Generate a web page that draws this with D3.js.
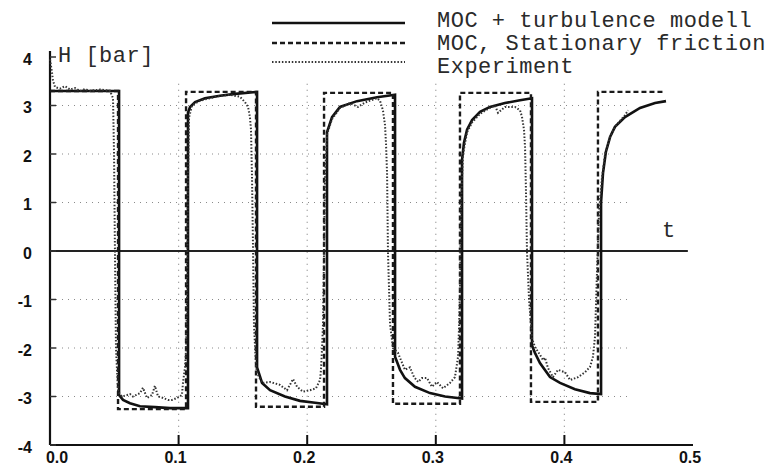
<!DOCTYPE html>
<meta charset="utf-8">
<style>
body { margin: 0; background: #fff; }
.tick-label { font-family: "Liberation Sans", Arial, sans-serif; font-weight: bold; font-size: 16px; fill: #111; }
.mono { font-family: "Liberation Mono", "Courier New", monospace; font-size: 22px; letter-spacing: 0.5px; fill: #2a2a2a; }
.grid line { stroke: #8a8a8a; stroke-width: 1.2; stroke-dasharray: 1,5; }
</style>
<body>
<script src="https://cdn.jsdelivr.net/npm/d3@7/dist/d3.min.js"></script>
<script>

// values: [t, H]
var turbulence = [
  [0,3.30],[0.0537,3.30],[0.0537,-2.97],[0.0568,-3.07],[0.0622,-3.14],[0.07,-3.2],[0.0816,-3.22],[0.0933,-3.24],[0.1073,-3.24],
  [0.1073,2.85],[0.1089,2.97],[0.1128,3.07],[0.1205,3.15],[0.1322,3.2],[0.1439,3.24],[0.161,3.28],
  [0.161,-2.40],[0.1649,-2.72],[0.1711,-2.87],[0.1827,-3.0],[0.1944,-3.09],[0.2061,-3.13],[0.2154,-3.16],
  [0.2154,2.45],[0.2193,2.76],[0.2255,2.97],[0.2387,3.09],[0.2543,3.17],[0.2683,3.22],
  [0.2683,-2.18],[0.2722,-2.45],[0.276,-2.62],[0.2838,-2.8],[0.2955,-2.93],[0.3072,-3.0],[0.3204,-3.04],
  [0.3204,1.88],[0.3219,2.23],[0.3243,2.5],[0.3282,2.7],[0.3344,2.87],[0.3421,2.97],[0.3538,3.05],[0.3655,3.11],[0.3748,3.15],
  [0.3748,-1.95],[0.3771,-2.1],[0.381,-2.31],[0.3888,-2.6],[0.3966,-2.72],[0.4082,-2.85],[0.4199,-2.93],[0.4285,-2.95],
  [0.4285,1.0],[0.43,1.6],[0.4323,2.05],[0.4355,2.35],[0.4393,2.56],[0.4471,2.76],[0.4588,2.95],[0.4705,3.05],[0.479,3.09]
];

var stationary = [
  [0,3.30],[0.0529,3.30],[0.0529,-3.26],[0.1058,-3.26],[0.1058,3.28],[0.1602,3.28],[0.1602,-3.21],[0.2131,-3.21],
  [0.2131,3.26],[0.2667,3.26],[0.2667,-3.15],[0.3188,-3.15],[0.3188,3.26],[0.374,3.26],[0.374,-3.11],[0.4261,-3.11],
  [0.4261,3.28],[0.4785,3.28]
];

var experiment = [
  [0,3.95],[0.0016,3.67],[0.0023,3.52],[0.0039,3.38],[0.0078,3.35],[0.0117,3.40],[0.0156,3.33],[0.0194,3.36],[0.0233,3.30],
  [0.0272,3.34],[0.0311,3.30],[0.0389,3.33],[0.0467,3.30],[0.049,3.15],[0.0498,2.0],[0.0505,0],[0.0513,-2.0],[0.0529,-2.90],
  [0.056,-3.0],[0.0599,-2.97],[0.0622,-2.95],[0.0645,-3.0],[0.07,-2.93],[0.0723,-2.82],[0.0754,-3.03],[0.0793,-2.97],
  [0.0816,-2.78],[0.084,-3.0],[0.0879,-3.03],[0.0918,-3.07],[0.0949,-3.07],[0.0988,-3.03],[0.1026,-2.97],[0.1034,-2.72],
  [0.105,-2.39],[0.1058,-2.04],[0.1065,-1.0],[0.1073,1.5],[0.1081,2.75],[0.1104,3.0],[0.1166,3.1],[0.1244,3.15],[0.1322,3.2],
  [0.14,3.22],[0.1477,3.18],[0.1516,3.07],[0.154,2.97],[0.1555,2.75],[0.1563,2.5],[0.1571,1.5],[0.1579,0],[0.1586,-1.5],[0.1602,-2.4],
  [0.1617,-2.55],[0.1649,-2.72],[0.1711,-2.7],[0.1788,-2.76],[0.1843,-2.87],[0.189,-2.64],[0.1921,-2.8],[0.1967,-2.9],
  [0.2022,-2.87],[0.2068,-2.83],[0.21,-2.66],[0.2107,-2.45],[0.2115,-2.04],[0.2123,-1.5],[0.2131,0],[0.2138,1.5],[0.2154,2.4],
  [0.2193,2.72],[0.2255,2.95],[0.2333,3.05],[0.2395,2.97],[0.2449,3.06],[0.2488,3.1],[0.2543,3.15],[0.2566,3.1],[0.2589,2.9],
  [0.2605,2.6],[0.2613,2.2],[0.2621,1.6],[0.2628,0],[0.2644,-1.5],[0.2667,-2.0],
  [0.2706,-2.1],[0.276,-2.45],[0.2799,-2.4],[0.2831,-2.6],[0.2862,-2.7],[0.2893,-2.62],[0.2932,-2.62],[0.297,-2.8],[0.3009,-2.7],
  [0.3056,-2.83],[0.311,-2.72],[0.3149,-2.6],[0.3173,-2.18],[0.318,-1.63],[0.3188,-0.8],[0.3196,1.0],[0.3212,2.0],[0.3243,2.45],
  [0.3282,2.65],[0.3344,2.83],[0.3421,2.95],[0.346,3.0],[0.3484,2.85],[0.3538,2.97],[0.3616,2.97],[0.3655,2.9],[0.367,2.77],
  [0.3686,2.5],[0.3694,2.14],[0.3701,1.26],[0.3709,0],[0.3725,-1.0],[0.3748,-1.8],
  [0.3771,-1.98],[0.381,-2.14],[0.3834,-2.25],[0.3849,-2.2],[0.3872,-2.41],[0.3911,-2.6],[0.395,-2.45],[0.4005,-2.5],[0.4044,-2.66],
  [0.4106,-2.6],[0.416,-2.5],[0.4199,-2.39],[0.4222,-2.18],[0.4238,-1.77],[0.4246,-1.07],[0.4254,-0.4],[0.4269,0.8],[0.4292,1.5],
  [0.4316,2.0],[0.4355,2.35],[0.4393,2.56],[0.4432,2.68],[0.4471,2.8],[0.4495,2.9]
];

var seriesNames = ["MOC + turbulence modell", "MOC, Stationary friction", "Experiment"];
var yTicks = [-4, -3, -2, -1, 0, 1, 2, 3, 4];
var xTicks = [0, 0.1, 0.2, 0.3, 0.4, 0.5];
var xTickLabels = ["0.0", "0.1", "0.2", "0.3", "0.4", "0.5"];
var gridH = [-3, -2, -1, 1, 2, 3];
var gridT = [0.1, 0.2, 0.3, 0.4];

var margin = {top: 57, right: 74, bottom: 22, left: 50},
    width = 767 - margin.left - margin.right,
    height = 467 - margin.top - margin.bottom;

var x = d3.scaleLinear().domain([0, 0.5]).range([0, width]);
var y = d3.scaleLinear().domain([-4, 4]).range([height, 0]);

var svg = d3.select("body").append("svg")
    .attr("width", 767)
    .attr("height", 467)
  .append("g")
    .attr("transform", "translate(" + margin.left + "," + margin.top + ")");

// faint dotted grid
var grid = svg.append("g").attr("class", "grid");
grid.selectAll(".gh").data(gridH).enter().append("line")
    .attr("x1", 0).attr("x2", x(0.45))
    .attr("y1", function(d) { return y(d); })
    .attr("y2", function(d) { return y(d); });
grid.selectAll(".gv").data(gridT).enter().append("line")
    .attr("x1", function(d) { return x(d); })
    .attr("x2", function(d) { return x(d); })
    .attr("y1", y(3.45)).attr("y2", height);

// axes
svg.append("line")
    .attr("x1", 0).attr("x2", 0)
    .attr("y1", height).attr("y2", -6)
    .attr("stroke", "#111").attr("stroke-width", 2.2);
svg.append("line")
    .attr("x1", 0).attr("x2", width)
    .attr("y1", height).attr("y2", height)
    .attr("stroke", "#111").attr("stroke-width", 2.2);
svg.append("line")
    .attr("x1", 0).attr("x2", x(0.496))
    .attr("y1", y(0)).attr("y2", y(0))
    .attr("stroke", "#222").attr("stroke-width", 2);

svg.selectAll(".ytick").data(yTicks).enter().append("line")
    .attr("x1", 0).attr("x2", 6)
    .attr("y1", function(d) { return y(d); })
    .attr("y2", function(d) { return y(d); })
    .attr("stroke", "#333").attr("stroke-width", 1.5);
svg.selectAll(".xtick").data(xTicks.slice(1, 5)).enter().append("line")
    .attr("x1", function(d) { return x(d); })
    .attr("x2", function(d) { return x(d); })
    .attr("y1", height).attr("y2", height - 10)
    .attr("stroke", "#111").attr("stroke-width", 2);

svg.selectAll(".ylab").data(yTicks).enter().append("text")
    .attr("class", "tick-label")
    .attr("x", -18)
    .attr("y", function(d) { return y(d) + 2; })
    .attr("dy", "0.35em")
    .attr("text-anchor", "end")
    .text(function(d) { return d; });

svg.selectAll(".xlab").data(xTicks).enter().append("text")
    .attr("class", "tick-label")
    .attr("x", function(d, i) { return x(d) + (i == 0 ? 7 : -3); })
    .attr("y", height + 18)
    .attr("text-anchor", "middle")
    .text(function(d, i) { return xTickLabels[i]; });

svg.append("text").attr("class", "mono")
    .attr("x", 8).attr("y", 5)
    .text("H [bar]");
svg.append("text").attr("class", "mono")
    .attr("x", 612).attr("y", 180)
    .text("t");

// curves
var line = d3.line()
    .x(function(d) { return x(d[0]); })
    .y(function(d) { return y(d[1]); });

var styles = [
  {data: turbulence, dash: null, w: 2.6, c: "#111"},
  {data: stationary, dash: "5,3", w: 2.4, c: "#1a1a1a"},
  {data: experiment, dash: "1.5,1.8", w: 2, c: "#333"}
];

svg.selectAll(".curve").data(styles).enter().append("path")
    .attr("class", "curve")
    .attr("fill", "none")
    .attr("stroke", function(d) { return d.c; })
    .attr("stroke-width", function(d) { return d.w; })
    .attr("stroke-dasharray", function(d) { return d.dash; })
    .attr("d", function(d) { return line(d.data); });

// legend (page coords)
var legend = d3.select("svg").append("g");
var legY = [23, 43, 62];
var legTextY = [27, 50, 73];
legend.selectAll("line").data(styles).enter().append("line")
    .attr("x1", 272).attr("x2", 405)
    .attr("y1", function(d, i) { return legY[i]; })
    .attr("y2", function(d, i) { return legY[i]; })
    .attr("stroke", function(d) { return d.c; })
    .attr("stroke-width", function(d) { return d.w; })
    .attr("stroke-dasharray", function(d) { return d.dash; });
legend.selectAll("text").data(seriesNames).enter().append("text")
    .attr("class", "mono")
    .attr("x", 437)
    .attr("y", function(d, i) { return legTextY[i]; })
    .text(function(d) { return d; });

</script>
